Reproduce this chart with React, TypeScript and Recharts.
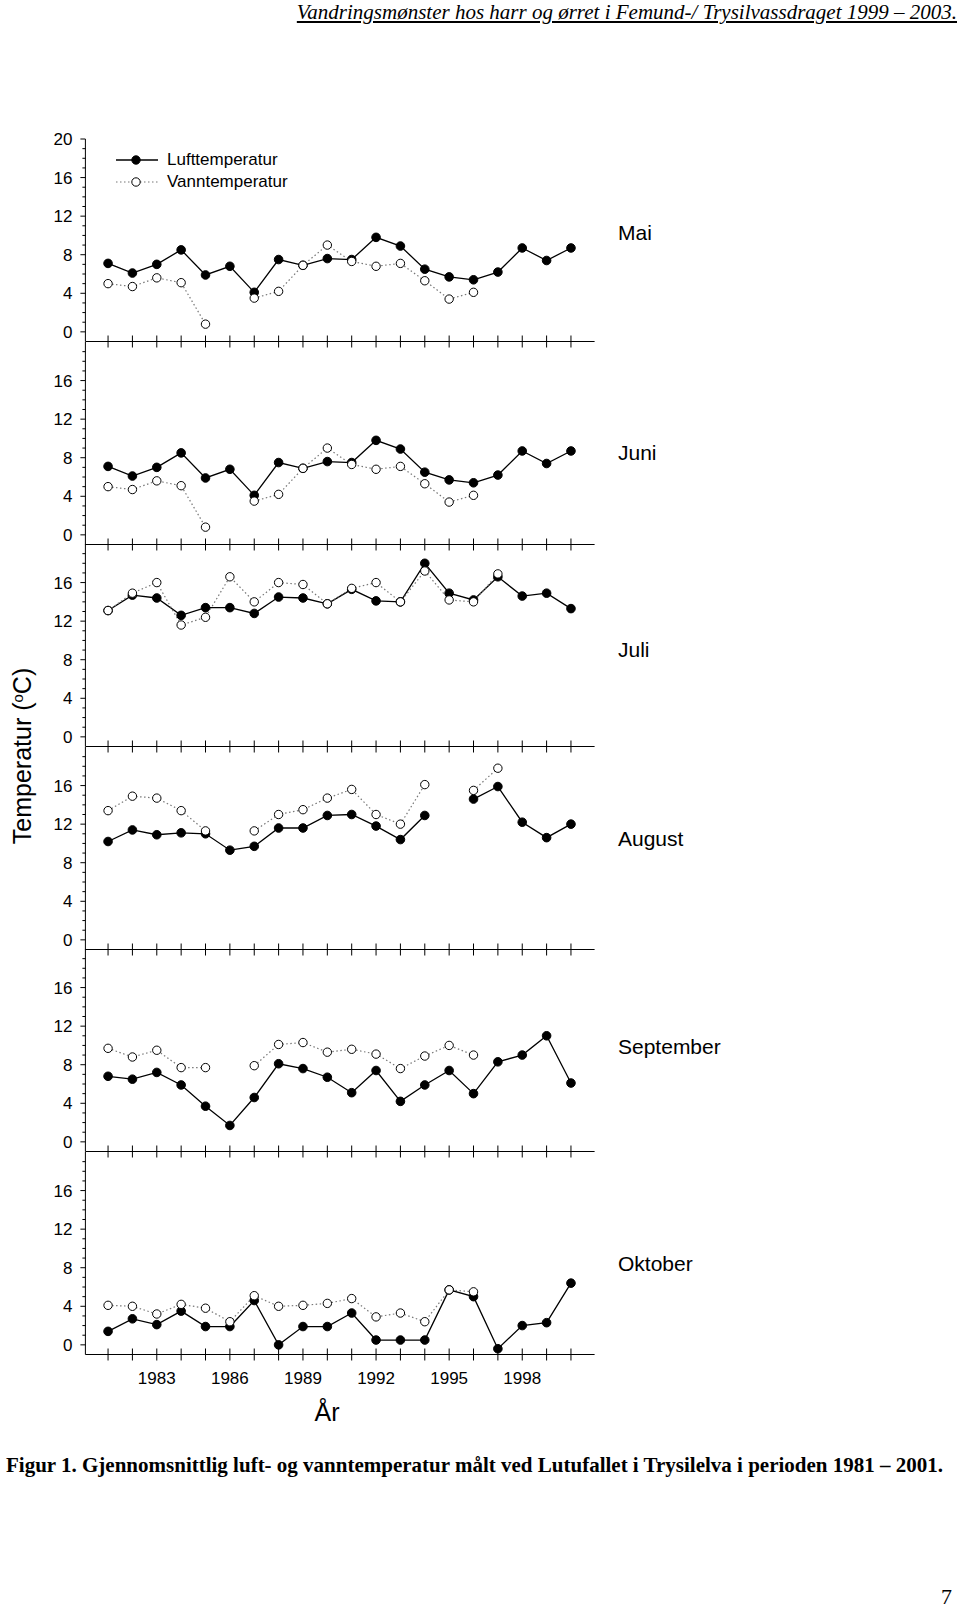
import React from 'react';
import { LineChart, Line, XAxis, YAxis, Legend } from 'recharts';

// Years on the x axis (one point per year, 1981-2000)
const years = [1981, 1982, 1983, 1984, 1985, 1986, 1987, 1988, 1989, 1990, 1991, 1992, 1993, 1994, 1995, 1996, 1997, 1998, 1999, 2000];
const yearLabels = [1983, 1986, 1989, 1992, 1995, 1998];

const yMajorTicks = [0, 4, 8, 12, 16, 20];
const yTicksTop = [0, 1, 2, 3, 4, 5, 6, 7, 8, 9, 10, 11, 12, 13, 14, 15, 16, 17, 18, 19, 20];
const yTicksLower = [0, 1, 2, 3, 4, 5, 6, 7, 8, 9, 10, 11, 12, 13, 14, 15, 16, 17, 18, 19];

// Lufttemperatur / Vanntemperatur per month (null = missing)
const maiLuft = [7.1, 6.1, 7.0, 8.5, 5.9, 6.8, 4.1, 7.5, 6.9, 7.6, 7.5, 9.8, 8.9, 6.5, 5.7, 5.4, 6.2, 8.7, 7.4, 8.7];
const maiVann = [5.0, 4.7, 5.6, 5.1, 0.8, null, 3.5, 4.2, 6.9, 9.0, 7.3, 6.8, 7.1, 5.3, 3.4, 4.1, null, null, null, null];

const juniLuft = [7.1, 6.1, 7.0, 8.5, 5.9, 6.8, 4.1, 7.5, 6.9, 7.6, 7.5, 9.8, 8.9, 6.5, 5.7, 5.4, 6.2, 8.7, 7.4, 8.7];
const juniVann = [5.0, 4.7, 5.6, 5.1, 0.8, null, 3.5, 4.2, 6.9, 9.0, 7.3, 6.8, 7.1, 5.3, 3.4, 4.1, null, null, null, null];

const juliLuft = [13.1, 14.7, 14.4, 12.6, 13.4, 13.4, 12.8, 14.5, 14.4, 13.8, 15.3, 14.1, 14.0, 18.0, 14.9, 14.2, 16.6, 14.6, 14.9, 13.3];
const juliVann = [13.1, 14.9, 16.0, 11.6, 12.4, 16.6, 14.0, 16.0, 15.8, 13.8, 15.4, 16.0, 14.0, 17.2, 14.2, 14.0, 16.9, null, null, null];

const augustLuft = [10.2, 11.4, 10.9, 11.1, 11.0, 9.3, 9.7, 11.6, 11.6, 12.9, 13.0, 11.8, 10.4, 12.9, null, 14.6, 15.9, 12.2, 10.6, 12.0];
const augustVann = [13.4, 14.9, 14.7, 13.4, 11.3, null, 11.3, 13.0, 13.5, 14.7, 15.6, 13.0, 12.0, 16.1, null, 15.5, 17.8, null, null, null];

const septemberLuft = [6.8, 6.5, 7.2, 5.9, 3.7, 1.7, 4.6, 8.1, 7.6, 6.7, 5.1, 7.4, 4.2, 5.9, 7.4, 5.0, 8.3, 9.0, 11.0, 6.1];
const septemberVann = [9.7, 8.8, 9.5, 7.7, 7.7, null, 7.9, 10.1, 10.3, 9.3, 9.6, 9.1, 7.6, 8.9, 10.0, 9.0, null, null, null, null];

const oktoberLuft = [1.4, 2.7, 2.1, 3.5, 1.9, 1.9, 4.6, 0.0, 1.9, 1.9, 3.3, 0.5, 0.5, 0.5, 5.7, 5.0, -0.4, 2.0, 2.3, 6.4];
const oktoberVann = [4.1, 4.0, 3.2, 4.2, 3.8, 2.4, 5.1, 4.0, 4.1, 4.3, 4.8, 2.9, 3.3, 2.4, 5.7, 5.5, null, null, null, null];

const months = ['Mai', 'Juni', 'Juli', 'August', 'September', 'Oktober'];
const monthLabelY = [232, 452, 649, 838, 1046, 1263];

const SANS = '"Liberation Sans", Arial, sans-serif';
const SERIF = '"Liberation Serif", "Times New Roman", serif';

const PLOT_TOP = 139;
const PLOT_H = 202.5;
const CHART_W = 620;
const TOP_PAD = 10;

function XTick(props: any) {
  const { x, y, payload, showLabel } = props;
  return (
    <g>
      <line x1={x} x2={x} y1={y - 6} y2={y + 6} stroke="#000" strokeWidth={1} />
      {showLabel && yearLabels.includes(payload.value) && (
        <text x={x} y={y + 24} dy="0.35em" textAnchor="middle" fontFamily={SANS} fontSize={17} fill="#000">
          {payload.value}
        </text>
      )}
    </g>
  );
}

function YTick(props: any) {
  const { x, y, payload } = props;
  const major = yMajorTicks.includes(payload.value);
  return (
    <g>
      <line x1={x - (major ? 5 : 3)} x2={x} y1={y} y2={y} stroke="#000" strokeWidth={1} />
      {major && (
        <text x={x - 13} y={y} dy="0.35em" textAnchor="end" fontFamily={SANS} fontSize={17} fill="#000">
          {payload.value}
        </text>
      )}
    </g>
  );
}

function LegendBox() {
  const row = (label: string, dotted: boolean) => (
    <div style={{ display: 'flex', alignItems: 'center', height: 22.5 }}>
      <svg width={42} height={12} style={{ display: 'block' }}>
        <line
          x1={0}
          x2={42}
          y1={6}
          y2={6}
          stroke={dotted ? '#777' : '#000'}
          strokeWidth={dotted ? 1.2 : 1.3}
          strokeDasharray={dotted ? '1.5 2.5' : undefined}
        />
        <circle cx={20} cy={6} r={4.2} fill={dotted ? '#fff' : '#000'} stroke="#000" strokeWidth={1} />
      </svg>
      <span style={{ marginLeft: 9, fontFamily: SANS, fontSize: 17, color: '#000', whiteSpace: 'nowrap' }}>{label}</span>
    </div>
  );
  return (
    <div>
      {row('Lufttemperatur', false)}
      {row('Vanntemperatur', true)}
    </div>
  );
}

interface PanelProps {
  index: number;
  luft: (number | null)[];
  vann: (number | null)[];
}

function Panel({ index, luft, vann }: PanelProps) {
  const rows = years.map((year, i) => ({ year, luft: luft[i], vann: vann[i] }));
  const first = index === 0;
  const last = index === 5;
  const axisH = last ? 60 : 12;
  const plotTop = PLOT_TOP + index * PLOT_H;
  return (
    <div style={{ position: 'absolute', left: 0, top: plotTop - TOP_PAD }}>
      <LineChart
        width={CHART_W}
        height={TOP_PAD + PLOT_H + axisH}
        data={rows}
        margin={{ top: TOP_PAD, right: 25.4, bottom: 0, left: 25.4 }}
      >
        <XAxis
          type="number"
          dataKey="year"
          domain={[1980.07, 2000.97]}
          allowDataOverflow
          ticks={years}
          interval={0}
          tickSize={0}
          tickMargin={0}
          tickLine={false}
          height={axisH}
          axisLine={{ stroke: '#000', strokeWidth: 1 }}
          tick={(p: any) => <XTick {...p} showLabel={last} />}
        />
        <YAxis
          type="number"
          domain={[-1, 20]}
          allowDataOverflow
          ticks={first ? yTicksTop : yTicksLower}
          interval={0}
          width={60}
          tickSize={0}
          tickMargin={0}
          tickLine={false}
          axisLine={{ stroke: '#000', strokeWidth: 1 }}
          tick={(p: any) => <YTick {...p} />}
        />
        {first && (
          <Legend
            verticalAlign="middle"
            align="center"
            content={<LegendBox />}
            wrapperStyle={{ position: 'absolute', left: 116, top: 159.5 - 11.25 - (PLOT_TOP - TOP_PAD), width: 200, height: 45 }}
          />
        )}
        <Line
          type="linear"
          dataKey="luft"
          name="Lufttemperatur"
          stroke="#000"
          strokeWidth={1.3}
          dot={{ r: 4.3, fill: '#000', stroke: '#000', strokeWidth: 1 }}
          activeDot={false}
          connectNulls={false}
          isAnimationActive={false}
        />
        <Line
          type="linear"
          dataKey="vann"
          name="Vanntemperatur"
          stroke="#777"
          strokeWidth={1.2}
          strokeDasharray="1.5 2.5"
          dot={{ r: 4.2, fill: '#fff', stroke: '#000', strokeWidth: 1, strokeDasharray: 'none' }}
          activeDot={false}
          connectNulls={false}
          isAnimationActive={false}
        />
      </LineChart>
    </div>
  );
}

export default function App() {
  const series = [
    [maiLuft, maiVann],
    [juniLuft, juniVann],
    [juliLuft, juliVann],
    [augustLuft, augustVann],
    [septemberLuft, septemberVann],
    [oktoberLuft, oktoberVann],
  ];
  return (
    <div style={{ position: 'absolute', left: 0, top: 0, width: 960, height: 1613, background: '#fff', overflow: 'hidden' }}>
      <div
        style={{
          position: 'absolute',
          right: 3,
          top: 1,
          fontFamily: SERIF,
          fontStyle: 'italic',
          fontSize: 21,
          lineHeight: '22px',
          textDecoration: 'underline',
          whiteSpace: 'nowrap',
          color: '#000',
        }}
      >
        Vandringsmønster hos harr og ørret i Femund-/ Trysilvassdraget 1999 – 2003.
      </div>

      {series.map(([l, v], i) => (
        <Panel key={months[i]} index={i} luft={l} vann={v} />
      ))}

      {months.map((m, i) => (
        <div
          key={m}
          style={{
            position: 'absolute',
            left: 618,
            top: monthLabelY[i],
            transform: 'translateY(-50%)',
            fontFamily: SANS,
            fontSize: 21,
            lineHeight: 1,
            color: '#000',
          }}
        >
          {m}
        </div>
      ))}

      <div
        style={{
          position: 'absolute',
          left: 22,
          top: 756,
          transform: 'translate(-50%, -50%) rotate(-90deg)',
          fontFamily: SANS,
          fontSize: 25,
          lineHeight: 1,
          whiteSpace: 'nowrap',
          color: '#000',
        }}
      >
        Temperatur (<sup style={{ fontSize: 15, verticalAlign: 'top', lineHeight: 1 }}>o</sup>C)
      </div>

      <div
        style={{
          position: 'absolute',
          left: 327,
          top: 1412,
          transform: 'translate(-50%, -50%)',
          fontFamily: SANS,
          fontSize: 25,
          lineHeight: 1,
          color: '#000',
        }}
      >
        År
      </div>

      <div
        style={{
          position: 'absolute',
          left: 6,
          top: 1465,
          transform: 'translateY(-50%)',
          fontFamily: SERIF,
          fontWeight: 'bold',
          fontSize: 21,
          lineHeight: 1,
          whiteSpace: 'nowrap',
          color: '#000',
        }}
      >
        Figur 1. Gjennomsnittlig luft- og vanntemperatur målt ved Lutufallet i Trysilelva i perioden 1981 – 2001.
      </div>

      <div
        style={{
          position: 'absolute',
          right: 8,
          top: 1597,
          transform: 'translateY(-50%)',
          fontFamily: SERIF,
          fontSize: 22,
          lineHeight: 1,
          color: '#000',
        }}
      >
        7
      </div>
    </div>
  );
}
